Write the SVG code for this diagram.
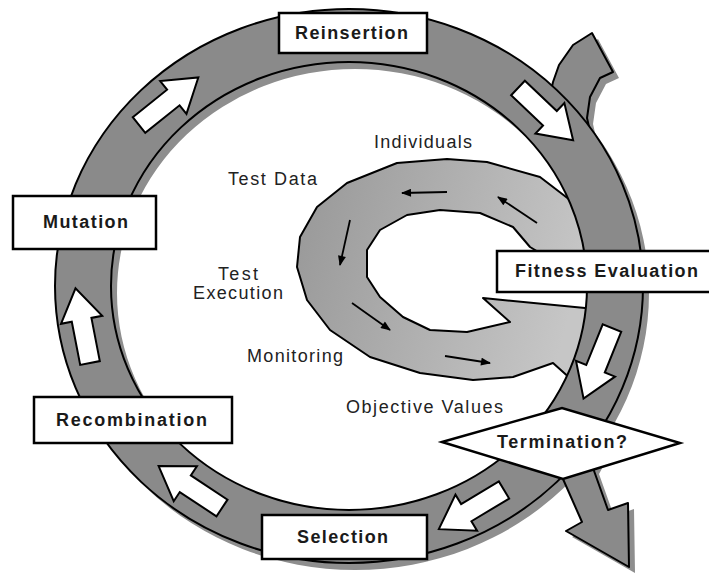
<svg xmlns="http://www.w3.org/2000/svg" width="709" height="577" viewBox="0 0 709 577">
  <defs>
    <style>
      .band{fill:#8a8a8a;stroke:#000;stroke-width:2;stroke-linejoin:round}
      .shadow{fill:#8e8e8e;stroke:none}
      .loop{fill:url(#loopGrad);stroke:#000;stroke-width:2;stroke-linejoin:round}
      .box{fill:#fff;stroke:#000;stroke-width:2.5}
      .blk{fill:#fff;stroke:#000;stroke-width:2;stroke-linejoin:miter}
      .flow{stroke:#000;stroke-width:1.8;fill:none;marker-end:url(#tip)}
      .lbl{font-family:"Liberation Sans",Arial,Helvetica,sans-serif;font-size:18px;font-weight:bold;fill:#1a1a1a}
      .note{font-family:"Liberation Sans",Arial,Helvetica,sans-serif;font-size:18px;fill:#222}
    </style>
    <linearGradient id="loopGrad" x1="0" y1="0" x2="1" y2="0.2">
      <stop offset="0" stop-color="#979797"/>
      <stop offset="1" stop-color="#c6c6c6"/>
    </linearGradient>
    <marker id="tip" viewBox="0 0 10 8" refX="9" refY="4" markerWidth="11" markerHeight="8" markerUnits="userSpaceOnUse" orient="auto">
      <path d="M0,0 L10,4 L0,8 Z" fill="#000"/>
    </marker>
    <path id="ringShape" fill-rule="evenodd" d="M55,286 A294,277 0 1,0 643,286 A294,277 0 1,0 55,286 Z M111,286 A238,224 0 1,0 587,286 A238,224 0 1,0 111,286 Z"/>
    <polygon id="tailShape" points="548,105 553,82 559,65 573,45 592,33 613,72 600,78 590,97 587,118 592,140"/>
    <polygon id="exitShape" points="548,455 563,479 582,522 566,531 629,567 628,503 608,510 593,468 600,455"/>
    <path id="blkArrow" d="M0,-10 H44 V-21 L76,0 L44,21 V10 H0 Z"/>
  </defs>

  <rect width="709" height="577" fill="#fff"/>

  <g id="connectors">
    <!-- drop shadows of the cycle band, the entry tail and the exit arrow -->
    <g id="shadows" class="shadow">
      <use href="#ringShape" transform="translate(6,7)"/>
      <use href="#tailShape" transform="translate(6,6)"/>
      <use href="#exitShape" transform="translate(6,6)"/>
    </g>

    <!-- inner evaluation loop, tucked under the band -->
    <polygon id="evalLoop" class="loop" points="600,215 570,200 540,177 487,162 447,159 397,163 347,183 317,207 300,237 297,267 307,300 330,330 370,357 420,373 473,380 513,377 553,363 572,380 600,380 600,309 585,308 483,298 510,322 467,332 430,330 403,317 380,297 367,277 367,250 380,230 407,215 440,210 480,213 513,227 530,247 555,262 580,272 600,278"/>

    <!-- entry tail at the top right -->
    <use href="#tailShape" class="band"/>

    <!-- main cycle band -->
    <use href="#ringShape" class="band"/>

    <!-- exit arrow leaving after the termination test -->
    <use href="#exitShape" class="band"/>

    <!-- flow direction markers on the band -->
    <g id="bandArrows" class="blk">
      <use href="#blkArrow" transform="translate(139,125) rotate(-38.7)"/>
      <use href="#blkArrow" transform="translate(518,88) rotate(43.5)"/>
      <use href="#blkArrow" transform="translate(612,328) rotate(112)"/>
      <use href="#blkArrow" transform="translate(504,490) rotate(149)"/>
      <use href="#blkArrow" transform="translate(222,508) rotate(213.5)"/>
      <use href="#blkArrow" transform="translate(90,363) rotate(259)"/>
    </g>

    <!-- small arrows inside the evaluation loop -->
    <g id="loopArrows">
      <line class="flow" x1="537" y1="223" x2="498" y2="197"/>
      <line class="flow" x1="447" y1="192" x2="402" y2="193"/>
      <line class="flow" x1="350" y1="220" x2="340" y2="265"/>
      <line class="flow" x1="352" y1="303" x2="390" y2="330"/>
      <line class="flow" x1="445" y1="356" x2="490" y2="363"/>
    </g>
  </g>

  <!-- loop annotations -->
  <g id="loopLabels" class="note">
    <text x="374" y="148" textLength="98" lengthAdjust="spacing">Individuals</text>
    <text x="228" y="185" textLength="89" lengthAdjust="spacing">Test Data</text>
    <text x="218" y="280" textLength="40" lengthAdjust="spacing">Test</text>
    <text x="193" y="299" textLength="90" lengthAdjust="spacing">Execution</text>
    <text x="247" y="362" textLength="96" lengthAdjust="spacing">Monitoring</text>
    <text x="346" y="413" textLength="157" lengthAdjust="spacing">Objective Values</text>
  </g>

  <g id="reinsertion">
    <rect class="box" x="279" y="13" width="148" height="40"/>
    <text class="lbl" x="295" y="39" textLength="113" lengthAdjust="spacing">Reinsertion</text>
  </g>

  <g id="fitness-evaluation">
    <rect class="box" x="497" y="251" width="216" height="41"/>
    <text class="lbl" x="515" y="277" textLength="183" lengthAdjust="spacing">Fitness Evaluation</text>
  </g>

  <g id="termination">
    <polygon class="box" points="442,442 562,408 680,443 563,479"/>
    <text class="lbl" x="497" y="448" textLength="130" lengthAdjust="spacing">Termination?</text>
  </g>

  <g id="selection">
    <rect class="box" x="262" y="515" width="165" height="44"/>
    <text class="lbl" x="297" y="543" textLength="91" lengthAdjust="spacing">Selection</text>
  </g>

  <g id="recombination">
    <rect class="box" x="34" y="397" width="198" height="46"/>
    <text class="lbl" x="56" y="426" textLength="151" lengthAdjust="spacing">Recombination</text>
  </g>

  <g id="mutation">
    <rect class="box" x="13" y="196" width="143" height="53"/>
    <text class="lbl" x="43" y="228" textLength="85" lengthAdjust="spacing">Mutation</text>
  </g>
</svg>
